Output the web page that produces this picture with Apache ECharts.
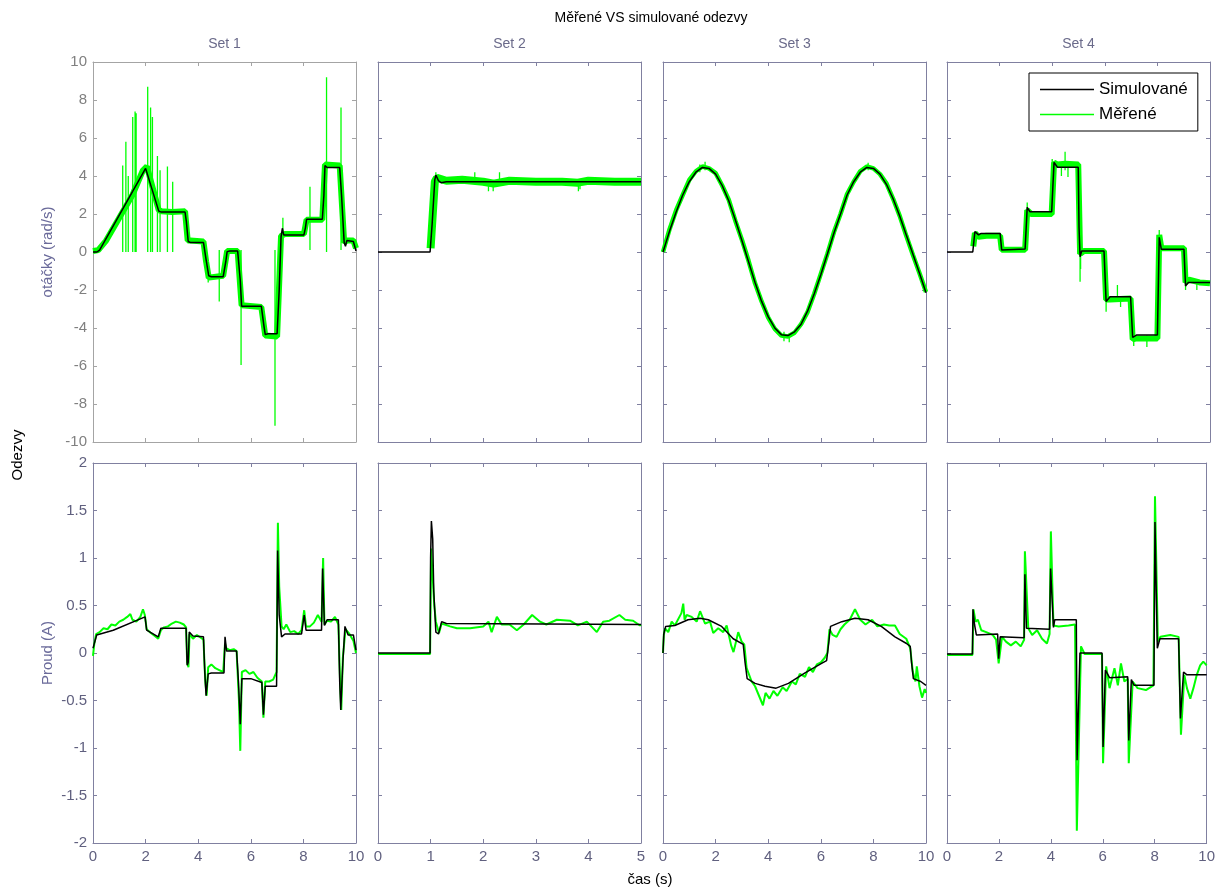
<!DOCTYPE html>
<html><head><meta charset="utf-8">
<script src="https://cdn.jsdelivr.net/npm/echarts@6/dist/echarts.min.js"></script>
<style>html,body{margin:0;padding:0;background:#fff}#c{width:1218px;height:889px}</style>
</head><body><div id="c"></div>
<script>
// ---------- DATA (t [s], value) ----------
const setTitles = ['Set 1', 'Set 2', 'Set 3', 'Set 4'];
const seriesNames = ['Simulované', 'Měřené'];

// Row 1: otáčky (rad/s) — simulated
const sim1a = [[0,0],[0.15,0],[0.25,0.1],[2.0,4.4],[2.5,2.15],[2.6,2.1],[3.5,2.1],[3.55,1.6],[3.62,0.55],[3.7,0.5],[4.2,0.5],[4.3,-0.4],[4.4,-1.25],[4.5,-1.3],[4.95,-1.3],[5.05,-0.5],[5.1,0.02],[5.2,0.05],[5.5,0.05],[5.6,-1.5],[5.65,-2.85],[5.75,-2.85],[6.4,-2.85],[6.5,-3.9],[6.55,-4.35],[6.65,-4.3],[7.0,-4.3],[7.08,-2.0],[7.15,0.8],[7.2,1.25],[7.25,0.9],[7.35,0.9],[8.02,0.9],[8.08,1.3],[8.12,1.72],[8.72,1.72],[8.78,3.0],[8.82,4.55],[8.9,4.45],[9.38,4.45],[9.45,3.0],[9.55,0.5],[9.6,0.3],[9.65,0.6],[9.9,0.55],[10,0.05]];
const sim2a = [[0,0],[0.99,0],[1.03,1.5],[1.08,3.8],[1.1,4.05],[1.15,3.75],[1.2,3.65],[1.3,3.7],[5,3.7]];
const sim3a = [[0,0],[0.25,1.1],[0.5,2.1],[0.75,3.0],[1.0,3.7],[1.25,4.2],[1.5,4.45],[1.75,4.4],[2.0,4.1],[2.25,3.5],[2.5,2.7],[2.75,1.7],[3.0,0.6],[3.25,-0.5],[3.5,-1.6],[3.75,-2.6],[4.0,-3.4],[4.25,-4.0],[4.5,-4.35],[4.75,-4.4],[5.0,-4.2],[5.25,-3.8],[5.5,-3.1],[5.75,-2.2],[6.0,-1.2],[6.25,-0.1],[6.5,1.0],[6.75,2.0],[7.0,3.0],[7.25,3.7],[7.5,4.2],[7.75,4.45],[8.0,4.4],[8.25,4.1],[8.5,3.55],[8.75,2.8],[9.0,1.9],[9.25,0.9],[9.5,-0.1],[9.75,-1.1],[10,-2.15]];
const sim4a = [[0,0],[0.98,0],[1.06,1.07],[1.2,0.9],[1.3,0.98],[2.02,0.98],[2.08,0.1],[2.15,0.16],[2.97,0.16],[3.05,2.35],[3.15,2.12],[3.98,2.12],[4.07,4.72],[4.2,4.46],[4.99,4.46],[5.02,1.3],[5.06,-0.25],[5.12,0.05],[5.97,0.05],[6.05,-2.6],[6.2,-2.35],[6.98,-2.35],[7.06,-4.5],[7.2,-4.37],[8.0,-4.37],[8.07,0.77],[8.15,0.14],[9.01,0.14],[9.07,-1.79],[9.17,-1.61],[10,-1.61]];

// Row 1: měřené — main trace (noise band) and spikes [t, from, to]
const mea1a = [[0,0.05],[0.2,0.1],[0.5,0.6],[1.0,1.8],[1.5,3.0],[1.9,4.3],[2.05,4.5],[2.5,2.2],[2.6,2.15],[3.0,2.1],[3.5,2.15],[3.6,0.6],[3.7,0.6],[4.2,0.55],[4.3,-0.5],[4.4,-1.35],[4.95,-1.25],[5.1,0.05],[5.5,0.05],[5.65,-2.8],[6.4,-2.9],[6.55,-4.4],[7.0,-4.45],[7.15,0.85],[7.3,0.95],[8.02,0.95],[8.12,1.7],[8.72,1.7],[8.82,4.6],[9.38,4.55],[9.55,0.5],[9.65,0.6],[9.9,0.6],[10,0.2]];
const spk1a = [[1.13,0,4.55],[1.25,0,5.8],[1.34,0,4.0],[1.51,0,7.1],[1.6,0,7.4],[1.64,0,7.3],[2.08,0,8.7],[2.19,0,7.6],[2.26,0,7.1],[2.45,0,5.05],[2.55,0,4.3],[2.83,0,4.5],[3.03,0,3.7],[4.38,-1.6,-1.0],[4.8,-2.6,0.1],[5.63,-5.95,0.1],[6.92,-9.15,0.1],[7.22,0.8,1.8],[8.25,0.1,3.44],[8.88,0,9.2],[9.43,0.1,7.6]];
const mea2a = [[1.0,0.2],[1.08,3.7],[1.12,3.9],[1.3,3.75],[1.6,3.8],[2.0,3.7],[2.2,3.6],[2.5,3.75],[3.0,3.7],[3.5,3.7],[3.8,3.65],[4.0,3.75],[4.5,3.7],[5,3.7]];
const spk2a = [[1.1,3.7,4.2],[1.84,3.7,4.2],[2.1,3.2,3.7],[2.19,3.2,3.7],[2.31,3.7,4.2],[3.81,3.2,3.7],[3.84,3.3,3.7]];
const mea3a = [[0,0],[0.25,1.2],[0.5,2.2],[0.75,3.0],[1.0,3.8],[1.25,4.25],[1.5,4.5],[1.75,4.4],[2.0,4.15],[2.25,3.5],[2.5,2.75],[2.75,1.65],[3.0,0.65],[3.25,-0.45],[3.5,-1.65],[3.75,-2.6],[4.0,-3.45],[4.25,-4.05],[4.5,-4.4],[4.75,-4.45],[5.0,-4.25],[5.25,-3.8],[5.5,-3.15],[5.75,-2.2],[6.0,-1.15],[6.25,-0.1],[6.5,1.05],[6.75,2.0],[7.0,3.05],[7.25,3.7],[7.5,4.25],[7.75,4.5],[8.0,4.4],[8.25,4.1],[8.5,3.6],[8.75,2.8],[9.0,1.9],[9.25,0.85],[9.5,-0.15],[9.75,-1.1],[10,-2.1]];
const spk3a = [[1.4,4.2,4.6],[1.6,4.3,4.75],[4.6,-4.7,-4.2],[4.8,-4.75,-4.3],[7.8,4.3,4.7]];
const mea4a = [[1.0,0.3],[1.06,1.0],[1.2,0.8],[1.5,0.85],[2.02,0.85],[2.08,0.12],[2.97,0.12],[3.05,2.2],[3.2,2.0],[3.98,2.0],[4.07,4.7],[4.2,4.6],[4.5,4.65],[4.99,4.6],[5.06,-0.1],[5.2,0.05],[5.97,0.05],[6.05,-2.5],[6.2,-2.5],[6.98,-2.45],[7.06,-4.6],[7.2,-4.55],[8.0,-4.55],[8.07,0.9],[8.15,0.2],[9.01,0.2],[9.07,-1.6],[9.2,-1.45],[9.6,-1.6],[10,-1.65]];
const spk4a = [[3.05,1.8,2.6],[4.0,4.0,4.9],[4.35,4.0,4.6],[4.49,4.3,5.28],[4.6,3.95,4.5],[5.06,-1.56,0.5],[5.08,-0.9,0.4],[6.05,-3.14,-2.3],[6.48,-2.4,-1.74],[6.6,-2.9,-2.4],[7.1,-4.95,-4.3],[7.6,-5.0,-4.4],[8.07,0,1.16],[9.07,-2.0,-1.4],[9.5,-2.0,-1.6]];

// Row 2: proud (A)
const sim1b = [[0,0.05],[0.14,0.19],[0.77,0.24],[1.98,0.38],[2.04,0.24],[2.48,0.17],[2.58,0.26],[3.54,0.26],[3.58,-0.13],[3.62,-0.1],[3.66,0.22],[3.8,0.18],[4.2,0.17],[4.25,-0.2],[4.3,-0.45],[4.38,-0.22],[4.5,-0.21],[4.98,-0.21],[5.02,0.17],[5.08,0.02],[5.46,0.02],[5.53,-0.3],[5.6,-0.75],[5.66,-0.27],[6.0,-0.27],[6.42,-0.31],[6.48,-0.65],[6.55,-0.35],[6.98,-0.35],[7.02,1.08],[7.08,0.4],[7.17,0.17],[7.3,0.2],[7.93,0.2],[8.03,0.4],[8.1,0.24],[8.69,0.24],[8.73,0.89],[8.8,0.29],[8.9,0.35],[9.33,0.35],[9.38,-0.3],[9.42,-0.6],[9.5,-0.1],[9.58,0.28],[9.7,0.19],[9.9,0.19],[10,0.03]];
const mea1b = [[0,-0.03],[0.05,0.1],[0.12,0.2],[0.25,0.22],[0.4,0.26],[0.55,0.25],[0.7,0.3],[0.85,0.29],[1.0,0.33],[1.15,0.35],[1.3,0.38],[1.42,0.41],[1.5,0.35],[1.65,0.33],[1.8,0.38],[1.9,0.46],[1.97,0.4],[2.04,0.25],[2.2,0.21],[2.35,0.18],[2.48,0.15],[2.58,0.24],[2.7,0.27],[2.85,0.28],[3.0,0.31],[3.15,0.33],[3.3,0.32],[3.45,0.3],[3.54,0.27],[3.58,-0.1],[3.63,-0.15],[3.67,0.2],[3.8,0.15],[3.95,0.19],[4.1,0.16],[4.2,0.14],[4.27,-0.3],[4.32,-0.45],[4.38,-0.15],[4.5,-0.12],[4.65,-0.16],[4.8,-0.18],[4.95,-0.2],[5.02,0.1],[5.06,0.05],[5.2,0.03],[5.35,0.04],[5.46,0.02],[5.55,-0.5],[5.6,-1.03],[5.66,-0.2],[5.8,-0.18],[5.95,-0.22],[6.1,-0.2],[6.25,-0.26],[6.42,-0.3],[6.48,-0.68],[6.55,-0.3],[6.7,-0.3],[6.85,-0.28],[6.98,-0.2],[7.03,1.37],[7.08,0.7],[7.17,0.28],[7.25,0.25],[7.35,0.3],[7.5,0.22],[7.65,0.23],[7.8,0.2],[7.93,0.24],[8.03,0.45],[8.1,0.28],[8.25,0.28],[8.4,0.32],[8.55,0.4],[8.69,0.33],[8.75,1.0],[8.8,0.3],[8.9,0.34],[9.05,0.33],[9.2,0.38],[9.33,0.3],[9.4,-0.35],[9.44,-0.6],[9.5,-0.05],[9.6,0.25],[9.75,0.2],[9.9,0.13],[10,0.0]];
const sim2b = [[0,0],[0.99,0],[1.0,1.0],[1.015,1.39],[1.04,1.2],[1.06,0.65],[1.1,0.22],[1.15,0.2],[1.21,0.33],[1.3,0.31],[5,0.3]];
const mea2b = [[0,-0.01],[0.99,-0.01],[1.0,0.5],[1.01,1.1],[1.04,1.1],[1.07,0.5],[1.1,0.33],[1.16,0.21],[1.21,0.31],[1.37,0.28],[1.5,0.26],[1.75,0.26],[2.0,0.28],[2.1,0.33],[2.16,0.22],[2.26,0.38],[2.35,0.3],[2.5,0.3],[2.64,0.24],[2.77,0.3],[2.93,0.4],[3.08,0.33],[3.2,0.3],[3.4,0.35],[3.65,0.34],[3.8,0.29],[3.97,0.33],[4.16,0.22],[4.28,0.33],[4.4,0.34],[4.59,0.4],[4.7,0.35],[4.85,0.34],[4.98,0.29],[5,0.3]];
const sim3b = [[0,0.0],[0.03,0.2],[0.1,0.28],[0.45,0.29],[0.95,0.35],[1.41,0.365],[1.72,0.35],[2.23,0.28],[2.67,0.15],[3.05,0.09],[3.12,-0.1],[3.2,-0.27],[3.5,-0.32],[3.88,-0.35],[4.3,-0.37],[4.77,-0.32],[5.4,-0.21],[6.03,-0.11],[6.22,-0.08],[6.3,0.1],[6.37,0.28],[6.8,0.33],[7.3,0.365],[7.8,0.35],[8.3,0.28],[8.82,0.17],[9.26,0.1],[9.4,0.07],[9.45,-0.1],[9.52,-0.27],[9.8,-0.3],[10,-0.34]];
const mea3b = [[0,0.0],[0.03,0.19],[0.08,0.26],[0.2,0.22],[0.33,0.33],[0.45,0.29],[0.7,0.42],[0.77,0.52],[0.82,0.35],[0.9,0.4],[1.09,0.38],[1.28,0.33],[1.41,0.44],[1.6,0.31],[1.79,0.33],[1.91,0.21],[2.1,0.26],[2.29,0.22],[2.42,0.29],[2.59,0.08],[2.68,0.01],[2.76,0.1],[2.86,0.22],[2.99,0.12],[3.09,0.09],[3.18,-0.16],[3.37,-0.3],[3.5,-0.35],[3.65,-0.45],[3.8,-0.55],[3.9,-0.42],[4.05,-0.48],[4.2,-0.4],[4.35,-0.45],[4.55,-0.36],[4.7,-0.4],[4.9,-0.3],[5.05,-0.33],[5.2,-0.22],[5.4,-0.25],[5.55,-0.15],[5.7,-0.2],[5.85,-0.12],[6.0,-0.1],[6.15,-0.05],[6.25,0.0],[6.33,0.25],[6.45,0.19],[6.6,0.17],[6.75,0.25],[6.9,0.3],[7.1,0.35],[7.3,0.46],[7.5,0.35],[7.7,0.3],[7.95,0.35],[8.15,0.28],[8.4,0.3],[8.6,0.29],[8.82,0.29],[9.0,0.2],[9.25,0.15],[9.4,0.05],[9.5,-0.2],[9.6,-0.3],[9.65,-0.14],[9.75,-0.35],[9.85,-0.47],[9.95,-0.38],[10,-0.42]];
const sim4b = [[0,-0.01],[0.98,-0.01],[1.0,0.46],[1.06,0.3],[1.13,0.19],[1.95,0.2],[1.99,-0.06],[2.05,0.17],[2.97,0.16],[3.0,0.83],[3.06,0.26],[3.95,0.25],[3.99,0.89],[4.1,0.27],[4.15,0.35],[4.98,0.35],[5.01,-1.13],[5.12,0.0],[5.97,0.0],[6.01,-0.99],[6.1,-0.18],[6.26,-0.26],[6.96,-0.25],[7.0,-0.92],[7.1,-0.28],[7.2,-0.34],[7.97,-0.34],[8.01,1.38],[8.1,0.05],[8.2,0.15],[8.92,0.15],[8.99,-0.69],[9.11,-0.2],[9.24,-0.23],[10,-0.23]];
const mea4b = [[0,-0.02],[0.98,-0.02],[1.02,0.46],[1.1,0.33],[1.19,0.35],[1.32,0.24],[1.51,0.22],[1.76,0.19],[1.89,0.14],[1.99,-0.11],[2.12,0.17],[2.27,0.12],[2.46,0.08],[2.65,0.12],[2.84,0.07],[2.97,0.14],[3.0,1.07],[3.13,0.26],[3.28,0.19],[3.47,0.24],[3.66,0.15],[3.85,0.1],[3.95,0.2],[4.0,1.28],[4.1,0.29],[4.3,0.28],[4.68,0.29],[4.93,0.3],[5.0,-1.87],[5.16,0.07],[5.3,-0.01],[5.97,-0.01],[6.01,-1.16],[6.13,-0.14],[6.26,-0.37],[6.45,-0.16],[6.58,-0.34],[6.7,-0.11],[6.83,-0.3],[6.96,-0.27],[7.0,-1.16],[7.15,-0.3],[7.34,-0.37],[7.66,-0.39],[7.95,-0.34],[8.01,1.65],[8.12,0.12],[8.22,0.17],[8.6,0.19],[8.92,0.17],[9.01,-0.86],[9.14,-0.23],[9.24,-0.37],[9.37,-0.48],[9.49,-0.37],[9.62,-0.23],[9.75,-0.13],[9.87,-0.09],[10,-0.13]];

// ---------- CHART ----------
const FONT = "'Liberation Sans Narrow','Liberation Sans',Arial,sans-serif";
const SLATE = '#8080a0', SLATE_TXT = '#60607f', GRAY = '#a4a4a4', GRAY_TXT = '#808080';
const colsX = [93, 378, 663, 947], rowsY = [62, 463], GW = 263, GH = 380;

const panels = [
  {r:0,c:0,xmax:10,xint:2,sim:sim1a,mea:mea1a,spk:spk1a,bw:6},
  {r:0,c:1,xmax:5,xint:1,sim:sim2a,mea:mea2a,spk:spk2a,bw:8},
  {r:0,c:2,xmax:10,xint:2,sim:sim3a,mea:mea3a,spk:spk3a,bw:4.5},
  {r:0,c:3,xmax:10,xint:2,sim:sim4a,mea:mea4a,spk:spk4a,bw:6},
  {r:1,c:0,xmax:10,xint:2,sim:sim1b,mea:mea1b,bw:2},
  {r:1,c:1,xmax:5,xint:1,sim:sim2b,mea:mea2b,bw:2},
  {r:1,c:2,xmax:10,xint:2,sim:sim3b,mea:mea3b,bw:2},
  {r:1,c:3,xmax:10,xint:2,sim:sim4b,mea:mea4b,bw:2}
];

const grid = [], xAxis = [], yAxis = [], series = [];
function spikeData(arr){ const out=[]; arr.forEach(s=>{ out.push([s[0],s[1]],[s[0],s[2]],[s[0],'-']); }); return out; }

panels.forEach((p,i)=>{
  grid.push({left:colsX[p.c], top:rowsY[p.r], width:GW, height:GH, containLabel:false});
  const fc = (p.r===0&&p.c===0)?GRAY:SLATE;
  const lc = (p.r===0&&p.c===0)?GRAY_TXT:SLATE_TXT;
  const line = {show:true,onZero:false,lineStyle:{color:fc,width:1}};
  const tick = {show:true,inside:true,length:4,lineStyle:{color:fc,width:1}};
  const xb = {gridIndex:i,type:'value',min:0,max:p.xmax,interval:p.xint,axisLine:line,axisTick:tick,splitLine:{show:false}};
  xAxis.push(Object.assign({},xb,{position:'bottom',axisLabel:{show:p.r===1,color:SLATE_TXT,fontSize:15,fontFamily:FONT,margin:6,showMinLabel:true,showMaxLabel:true}}));
  xAxis.push(Object.assign({},xb,{position:'top',axisLabel:{show:false}}));
  const yb = {gridIndex:i,type:'value',min:p.r===0?-10:-2,max:p.r===0?10:2,interval:p.r===0?2:0.5,axisLine:line,axisTick:tick,splitLine:{show:false}};
  yAxis.push(Object.assign({},yb,{position:'left',axisLabel:{show:p.c===0,color:lc,fontSize:15,fontFamily:FONT,margin:6,showMinLabel:true,showMaxLabel:true},
    name:p.c===0?(p.r===0?'otáčky (rad/s)':'Proud (A)'):'',nameLocation:'middle',nameGap:38,nameTextStyle:{color:'#6a6a9a',fontSize:15,fontFamily:FONT}}));
  yAxis.push(Object.assign({},yb,{position:'right',axisLabel:{show:false}}));
  const xi = 2*i, yi = 2*i;
  series.push({name:seriesNames[1],type:'line',xAxisIndex:xi,yAxisIndex:yi,data:p.mea,symbol:'none',showSymbol:false,color:'#00ff00',
    lineStyle:{color:'#00ff00',width:p.bw},animation:false,z:2});
  if (p.spk) series.push({name:seriesNames[1],type:'line',xAxisIndex:xi,yAxisIndex:yi,data:spikeData(p.spk),symbol:'none',showSymbol:false,connectNulls:false,color:'#00ff00',
    lineStyle:{color:'#00ff00',width:1.3},animation:false,z:2});
  series.push({name:seriesNames[0],type:'line',xAxisIndex:xi,yAxisIndex:yi,data:p.sim,symbol:'none',showSymbol:false,color:'#000000',
    lineStyle:{color:'#000000',width:1.5},animation:false,z:3});
});

const graphic = [
  {type:'text',x:651,y:18,style:{text:'Měřené VS simulované odezvy',fill:'#000',font:'14px '+FONT,textAlign:'center',textVerticalAlign:'middle'}},
  {type:'text',x:650,y:880,style:{text:'čas (s)',fill:'#000',font:'15px '+FONT,textAlign:'center',textVerticalAlign:'middle'}},
  {type:'text',x:18,y:455,rotation:Math.PI/2,style:{text:'Odezvy',fill:'#000',font:'15px '+FONT,textAlign:'center',textVerticalAlign:'middle'}}
];
setTitles.forEach((t,c)=>graphic.push({type:'text',x:colsX[c]+GW/2,y:44,style:{text:t,fill:'#6a6a8a',font:'14px '+FONT,textAlign:'center',textVerticalAlign:'middle'}}));

const chart = echarts.init(document.getElementById('c'));
chart.setOption({
  animation:false,
  backgroundColor:'#fff',
  grid, xAxis, yAxis, series, graphic,
  legend:{data:[{name:seriesNames[0],icon:'rect'},{name:seriesNames[1],icon:'rect'}],orient:'vertical',left:1029,top:73,
    itemWidth:54,itemHeight:1.5,itemGap:8,padding:[8,10,8,11],borderColor:'#000',borderWidth:1,backgroundColor:'#fff',
    textStyle:{color:'#000',fontSize:17,fontFamily:FONT},selectedMode:false,z:10}
});
</script></body></html>
